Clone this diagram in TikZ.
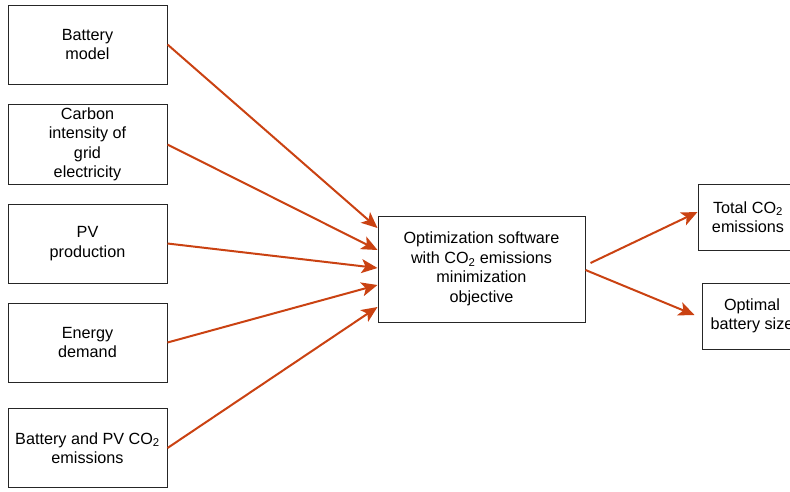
\documentclass[tikz,border=0pt]{standalone}
\usepackage{fontspec}
\setmainfont{Liberation Sans}
\usetikzlibrary{arrows.meta, positioning, calc}
\definecolor{arrowred}{RGB}{202,66,18}

\tikzset{
    box/.style={draw=black!85, line width=1pt, align=center, font=\fontsize{16.2}{19.5}\selectfont},
    inbox/.style={box, minimum width=159pt, minimum height=79pt},
    outbox/.style={box, minimum width=100pt, minimum height=66pt},
    flow/.style={draw=arrowred, line width=2pt, -{Stealth[length=16pt, width=14pt, inset=4pt]}}
}

\begin{document}
\begin{tikzpicture}[x=1pt, y=-1pt]
    \useasboundingbox (0,0) rectangle (790,491);

    % Cac hop dau vao ben trai
    \node[inbox] (bat) at (87.5,44.5) {Battery\\model};
    \node[inbox] (carb) at (87.5,144.5) {Carbon\\intensity of\\grid\\electricity};
    \node[inbox] (pv) at (87.5,243.5) {PV\\production};
    \node[inbox] (dem) at (87.5,342.5) {Energy\\demand};
    \node[inbox] (emis) at (87.5,448) {Battery and PV CO\textsubscript{2}\\emissions};

    % Hop toi uu o giua
    \node[box, minimum width=207pt, minimum height=106pt] (opt) at (481.5,269)
        {Optimization software\\with CO\textsubscript{2} emissions\\minimization\\objective};

    % Cac hop ket qua ben phai
    \node[outbox] (tot) at (748,217) {Total CO\textsubscript{2}\\emissions};
    \node[outbox] (size) at (752,316) {Optimal\\battery size};

    % Mui ten vao hop toi uu
    \draw[flow] (bat.east) -- ($(opt.west)+(0,-41)$);
    \draw[flow] (carb.east) -- ($(opt.west)+(0,-19)$);
    \draw[flow] (pv.east) -- ($(opt.west)+(0,-1)$);
    \draw[flow] (dem.east) -- ($(opt.west)+(0,16)$);
    \draw[flow] (emis.east) -- ($(opt.west)+(0,38)$);

    % Mui ten ra ket qua
    \draw[flow] ($(opt.east)+(5,-6)$) -- ($(tot.west)+(0,-5)$);
    \draw[flow] ($(opt.east)+(0,1)$) -- ($(size.west)+(-7,-1)$);
\end{tikzpicture}
\end{document}
